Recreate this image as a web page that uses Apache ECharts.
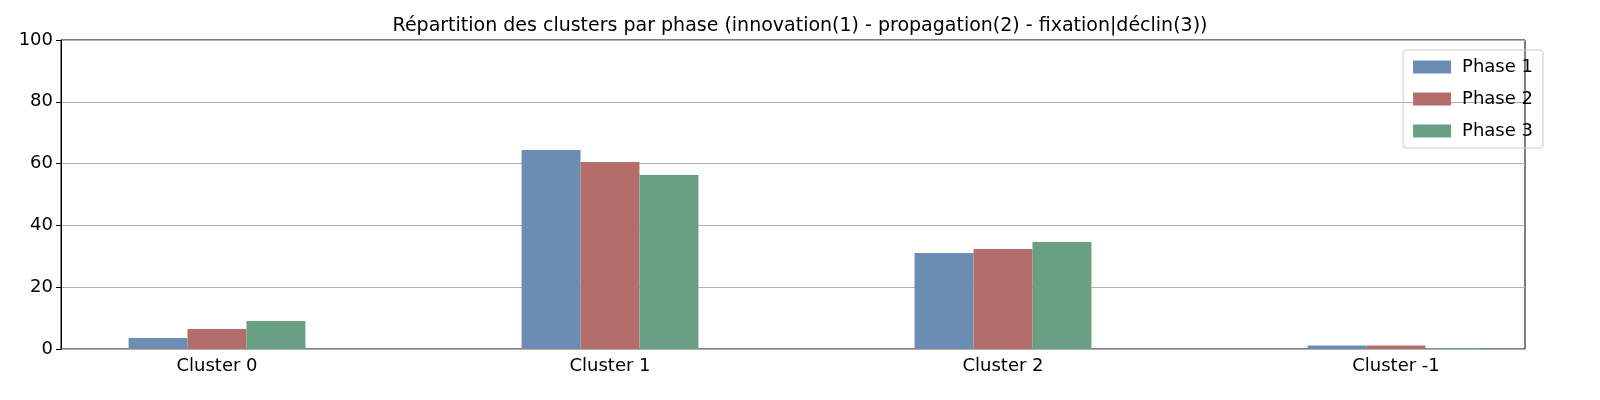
<!DOCTYPE html>
<html>
<head>
<meta charset="utf-8">
<script src="https://cdn.jsdelivr.net/npm/echarts@6/dist/echarts.min.js"></script>
<style>html,body{margin:0;padding:0;background:#fff}#chart{width:1600px;height:400px}</style>
</head>
<body>
<div id="chart"></div>
<script>
const categories = ['Cluster 0', 'Cluster 1', 'Cluster 2', 'Cluster -1'];
const phase1 = [3.6, 64.4, 31.1, 1.1];
const phase2 = [6.5, 60.5, 32.4, 1.1];
const phase3 = [9.1, 56.3, 34.6, 0.3];
const colors = ['#6b8db3', '#b46e69', '#69a083'];
const font = 'DejaVu Sans';

const chart = echarts.init(document.getElementById('chart'));
const mk = (name, data, i) => ({
    name, type: 'bar', data, barGap: '0%', barCategoryGap: '55%',
    xAxisIndex: 1, yAxisIndex: 1,
    itemStyle: {color: colors[i]}
});
chart.setOption({
    animation: false,
    textStyle: {fontFamily: font},
    title: {
        text: 'Répartition des clusters par phase (innovation(1) - propagation(2) - fixation|déclin(3))',
        left: 'center', top: 12,
        textStyle: {fontFamily: font, fontSize: 19, fontWeight: 'normal', color: '#000'}
    },
    legend: {
        orient: 'vertical', right: 57, top: 50, itemWidth: 38, itemHeight: 13, itemGap: 14,
        icon: 'rect',
        padding: [8, 10], borderColor: '#ccc', borderWidth: 1, borderRadius: 3,
        textStyle: {fontFamily: font, fontSize: 18, color: '#000', padding: [0, 0, 0, 6]},
        data: ['Phase 1', 'Phase 2', 'Phase 3']
    },
    grid: [
        {left: 61, right: 75, top: 40, bottom: 51, show: true, borderColor: '#000', borderWidth: 1},
        {left: 20.5, right: 7.5, top: 40, bottom: 51}
    ],
    xAxis: [
        {type: 'category', gridIndex: 0, data: categories, show: false},
        {
            type: 'category', gridIndex: 1, data: categories,
            axisLine: {show: false},
            axisTick: {alignWithLabel: true, lineStyle: {color: '#000'}, length: 5},
            axisLabel: {fontFamily: font, fontSize: 18, color: '#000', margin: 8}
        }
    ],
    yAxis: [
        {
            type: 'value', gridIndex: 0, min: 0, max: 100, interval: 20,
            axisLine: {show: true, lineStyle: {color: '#000'}},
            axisTick: {show: true, length: 5, lineStyle: {color: '#000'}},
            axisLabel: {fontFamily: font, fontSize: 18, color: '#000', margin: 8},
            splitLine: {lineStyle: {color: '#b0b0b0'}}
        },
        {type: 'value', gridIndex: 1, min: 0, max: 100, interval: 20, show: false, splitLine: {show: false}}
    ],
    series: [mk('Phase 1', phase1, 0), mk('Phase 2', phase2, 1), mk('Phase 3', phase3, 2)]
});
</script>
</body>
</html>
